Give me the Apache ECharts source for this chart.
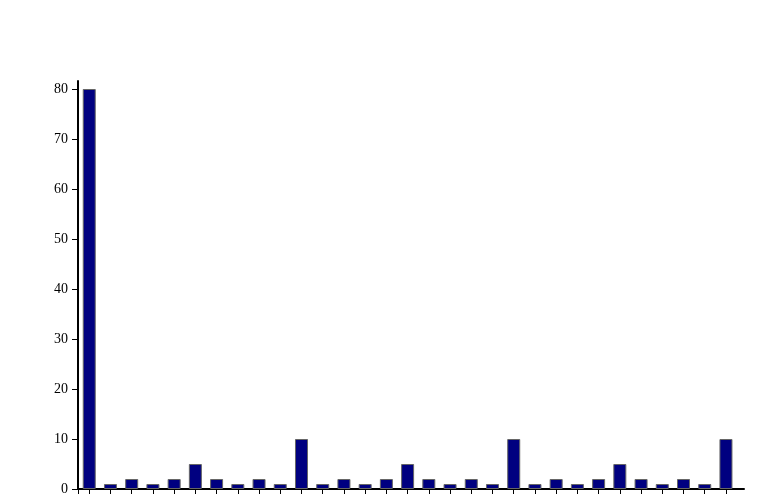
<!DOCTYPE html>
<html>
<head>
<meta charset="utf-8">
<script src="https://cdn.jsdelivr.net/npm/echarts@6/dist/echarts.min.js"></script>
<style>html,body{margin:0;padding:0;background:#fff;}#c{width:781px;height:496px;}</style>
</head>
<body>
<div id="c"></div>
<script>
var positions = [0,1,2,3,4,5,6,7,8,9,10,11,12,13,14,15,16,17,18,19,20,21,22,23,24,25,26,27,28,29,30];
var values = [80,1,2,1,2,5,2,1,2,1,10,1,2,1,2,5,2,1,2,1,10,1,2,1,2,5,2,1,2,1,10];
var xMin = -0.53, xMax = 30.85;
var xTicks = [xMin].concat(positions);
var yMax = 81.6;

var chart = echarts.init(document.getElementById('c'), null, {renderer: 'canvas'});
chart.setOption({
  animation: false,
  backgroundColor: '#ffffff',
  grid: {left: 78, right: 37, top: 81, bottom: 5, containLabel: false},
  xAxis: {
    type: 'value', min: xMin, max: xMax,
    axisLine: {show: true, onZero: false, lineStyle: {color: '#000', width: 2}},
    axisTick: {show: true, length: 5, lineStyle: {color: '#000', width: 1}, customValues: xTicks},
    axisLabel: {show: false},
    splitLine: {show: false}
  },
  yAxis: {
    type: 'value', min: 0, max: yMax, interval: 10,
    axisLine: {show: true, onZero: false, lineStyle: {color: '#000', width: 2}},
    axisTick: {show: true, length: 6, lineStyle: {color: '#000', width: 1}},
    axisLabel: {show: true, color: '#000', fontFamily: 'Liberation Serif', fontSize: 14, margin: 10,
      showMaxLabel: false},
    splitLine: {show: false}
  },
  series: [{
    type: 'bar',
    barWidth: 13,
    data: positions.map(function (p, i) { return [p, values[i]]; }),
    itemStyle: {color: '#000080', borderColor: '#666666', borderWidth: 1}
  }]
});
</script>
</body>
</html>
